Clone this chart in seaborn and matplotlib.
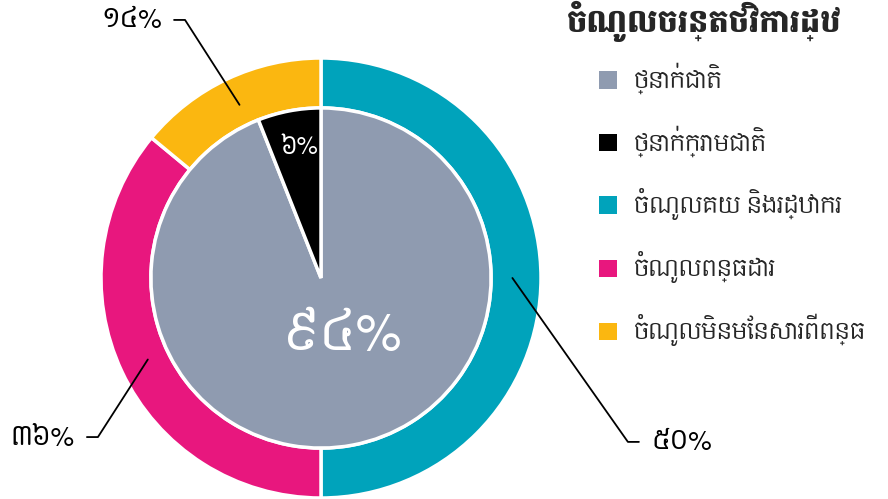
import os
import numpy as np
import matplotlib
matplotlib.use('Agg')
import matplotlib.pyplot as plt
from matplotlib import font_manager as fm
import seaborn as sns

# data
title = 'ចំណូលចរន្តថវិការដ្ឋ'
inner_labels = ['ថ្នាក់ជាតិ', 'ថ្នាក់ក្រោមជាតិ']
inner_values = [94, 6]
inner_text = ['៩៤%', '៦%']
outer_labels = ['ចំណូលគយ និងរដ្ឋាករ', 'ចំណូលពន្ធដារ', 'ចំណូលមិនមែនសារពើពន្ធ']
outer_values = [50, 36, 14]
outer_text = ['៥០%', '៣៦%', '១៤%']

inner_colors = ['#8f9bb0', '#000000']
outer_colors = ['#00a3bb', '#e8177e', '#fbb710']

sns.set_theme(style='white')
khmer = ['Content', 'Battambang', 'DejaVu Sans']
plt.rcParams['font.family'] = khmer

gdir = '/usr/share/fonts/truetype/google-fonts/'
title_font = fm.FontProperties(family=['Battambang', 'DejaVu Sans'], weight='bold', size=23)
for f in ['Battambang-Black.ttf', 'Battambang-Bold.ttf']:
    if os.path.exists(gdir + f):
        title_font = fm.FontProperties(fname=gdir + f, size=23)
        break

fig = plt.figure(figsize=(8.88, 4.99), dpi=100)
# pie centre at (321, 278) px, radius 220 px
ax = fig.add_axes([101 / 888, (499 - 278 - 220) / 499, 440 / 888, 440 / 499])

wedge_kw = dict(edgecolor='white', linewidth=2.5)
outer_w, _ = ax.pie(outer_values, radius=1.0, colors=outer_colors, startangle=90,
                    counterclock=False, wedgeprops=dict(width=0.227, **wedge_kw))
inner_w, _ = ax.pie(inner_values, radius=0.773, colors=inner_colors, startangle=90,
                    counterclock=False, wedgeprops=wedge_kw)
ax.set_xlim(-1, 1)
ax.set_ylim(-1, 1)
ax.set_aspect('equal')
ax.axis('off')

# inner labels
ax.text(0.095, -0.26, inner_text[0], color='white', fontsize=37,
        ha='center', va='center')
ax.text(-0.1, 0.595, inner_text[1], color='white', fontsize=17,
        ha='center', va='center')

# outer labels with elbow leader lines
# (elbow x, elbow y, side)
elbows = [(1.395, -0.745, 1), (-1.014, -0.723, -1), (-0.618, 1.173, -1)]
for w, txt, (ex, ey, side) in zip(outer_w, outer_text, elbows):
    ang = np.deg2rad((w.theta1 + w.theta2) / 2)
    sx, sy = 0.87 * np.cos(ang), 0.87 * np.sin(ang)
    stub = ex + side * 0.05
    ax.plot([sx, ex, stub], [sy, ey, ey], color='black', lw=1.3, clip_on=False)
    ax.text(stub + side * 0.055, ey, txt, fontsize=19, color='black',
            ha='left' if side > 0 else 'right', va='center')

fig.text(0.638, 0.958, title, fontproperties=title_font, ha='left', va='center')

handles = list(inner_w) + list(outer_w)
labels = inner_labels + outer_labels
leg = fig.legend(handles, labels, loc='upper left', bbox_to_anchor=(0.652, 0.915),
                 frameon=False, fontsize=16, handlelength=0.81, handleheight=0.81,
                 handletextpad=0.75, labelspacing=1.4)
for h in leg.legend_handles:
    h.set_linewidth(0)

fig.savefig('out.png', dpi=100)
